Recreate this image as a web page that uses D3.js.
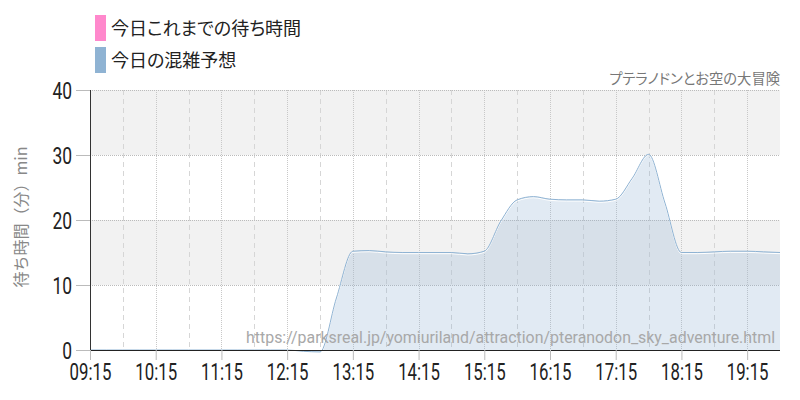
<!DOCTYPE html>
<html><head><meta charset="utf-8">
<script src="https://cdn.jsdelivr.net/npm/d3@7"></script>
<style>
html,body{margin:0;padding:0;background:#fff;}
svg{display:block;}
</style></head><body>
<svg id="c" width="800" height="400"></svg>
<script>
// ---- data ----
const times = ["09:15","09:30","09:45","10:00","10:15","10:30","10:45","11:00","11:15","11:30","11:45","12:00","12:15","12:30","12:45","13:00","13:15","13:30","13:45","14:00","14:15","14:30","14:45","15:00","15:15","15:30","15:45","16:00","16:15","16:30","16:45","17:00","17:15","17:30","17:45","18:00","18:15","18:30","18:45","19:00","19:15","19:30","19:45"];
const forecast = [0,0,0,0,0,0,0,0,0,0,0,0,0,-0.2,-0.3,8,15.2,15.3,15.1,15,15,15,15,14.8,15.2,19.8,23.1,23.6,23.2,23.1,23.1,22.9,23.2,26.4,30.1,22.6,15,15,15.1,15.2,15.2,15.1,15];
const actual = [];
const xTickLabels = ["09:15","10:15","11:15","12:15","13:15","14:15","15:15","16:15","17:15","18:15","19:15"];
const gridTimes = ["09:45","10:15","10:45","11:15","11:45","12:15","12:45","13:15","13:45","14:15","14:45","15:15","15:45","16:15","16:45","17:15","17:45","18:15","18:45","19:15","19:45"];
const yTicks = [0,10,20,30,40];
const legendLabels = ["今日これまでの待ち時間","今日の混雑予想"];
const legendColors = ["#ff88cc","#8fb3d3"];
const title = "プテラノドンとお空の大冒険";
const yTitle = "待ち時間（分）min";
const url = "https://parksreal.jp/yomiuriland/attraction/pteranodon_sky_adventure.html";

// ---- layout ----
const svg = d3.select("#c");
const L=90, R=780, T=90, B=350;
const parse = d3.timeParse("%H:%M");
const x = d3.scaleTime().domain([parse("09:15"), parse("19:45")]).range([L,R]);
const y = d3.scaleLinear().domain([0,40]).range([B,T]);
const numFont = "'Roboto',sans-serif";
const jpFont = "'Noto Sans CJK JP',sans-serif";
const SX = 0.76;

// bands
[[30,40],[10,20]].forEach(b=>{
  svg.append("rect").attr("x",L).attr("width",R-L).attr("y",y(b[1])).attr("height",y(b[0])-y(b[1])).attr("fill","#f2f2f2");
});
// vertical grid
gridTimes.forEach(s=>{
  const t = parse(s);
  const isHour = t.getMinutes()===15;
  const xx = Math.round(x(t))+0.5;
  if (xx>R) return;
  svg.append("line").attr("x1",xx).attr("x2",xx).attr("y1",T).attr("y2",B)
    .attr("stroke", isHour? "#c8c8c8":"#d6d6d6").attr("stroke-width",1)
    .attr("stroke-dasharray", isHour? "1,1":"5,4");
});
// horizontal grid
yTicks.forEach(v=>{
  if(v===0) return;
  const yy = Math.round(y(v))+0.5;
  svg.append("line").attr("x1",L).attr("x2",R).attr("y1",yy).attr("y2",yy)
    .attr("stroke","#bbbbbb").attr("stroke-dasharray","1,1");
});

// clip
svg.append("clipPath").attr("id","clp").append("rect").attr("x",L).attr("y",T-5).attr("width",R-L).attr("height",B-T+10);

const pts = times.map((t,i)=>({t:parse(t), v:forecast[i]}));
const area = d3.area().x(d=>x(d.t)).y0(y(0)).y1(d=>y(d.v)).curve(d3.curveMonotoneX);
const line = d3.line().x(d=>x(d.t)).y(d=>y(d.v)).curve(d3.curveMonotoneX);
const g = svg.append("g").attr("clip-path","url(#clp)");
g.append("path").datum(pts).attr("d",area).attr("fill","#8fb3d3").attr("fill-opacity",0.27);
g.append("path").datum(pts).attr("d",line).attr("fill","none").attr("stroke","#ffffff").attr("stroke-width",1).attr("transform","translate(0,1.2)");
g.append("path").datum(pts).attr("d",line).attr("fill","none").attr("stroke","#8fb3d3").attr("stroke-width",1);

// axes
const yAxis = d3.axisLeft(y).tickValues(yTicks).tickSize(14).tickPadding(4);
const ya = svg.append("g").attr("transform",`translate(${L},0)`).call(yAxis);
ya.select(".domain").attr("stroke","#333").attr("d",`M0.5,${T}V${B}`);
ya.selectAll(".tick line").attr("stroke","#bbb");
ya.selectAll(".tick text").attr("font-family",numFont).attr("font-size",23).attr("fill","#222").attr("dy","0.36em")
  .attr("x",-18/SX).attr("transform",`scale(${SX},1)`);

const xAxis = d3.axisBottom(x).tickValues(xTickLabels.map(parse)).tickFormat((d,i)=>xTickLabels[i]).tickSize(10).tickPadding(4);
const xa = svg.append("g").attr("transform",`translate(0,${B})`).call(xAxis);
xa.select(".domain").attr("stroke","#222").attr("d",`M${L},0.5H${R}`);
xa.selectAll(".tick line").attr("stroke","#bbb");
xa.selectAll(".tick text").attr("font-family",numFont).attr("font-size",23).attr("fill","#222").attr("transform",`scale(${SX*0.96},1)`);

// url watermark
svg.append("text").attr("x",775).attr("y",343).attr("text-anchor","end")
  .attr("font-family","'Roboto','Noto Sans',sans-serif").attr("font-size",15.9).attr("fill","#a8a8a8").text(url);

// y title
svg.append("text").attr("transform","translate(27,217) rotate(-90)").attr("text-anchor","middle")
  .attr("font-family",jpFont).attr("font-size",16).attr("fill","#888").text(yTitle);

// chart title
svg.append("text").attr("x",780).attr("y",84).attr("text-anchor","end")
  .attr("font-family",jpFont).attr("font-size",14.3).style("font-feature-settings","'palt'").attr("fill","#777").text(title);

// legend
legendLabels.forEach((lab,i)=>{
  svg.append("rect").attr("x",95).attr("y",15+i*32).attr("width",11).attr("height",26).attr("fill",legendColors[i]);
  svg.append("text").attr("x",111).attr("y",35+i*32).attr("font-family",jpFont).attr("font-size",18).style("font-feature-settings","'palt'").attr("fill","#222").text(lab);
});
</script>
</body></html>
